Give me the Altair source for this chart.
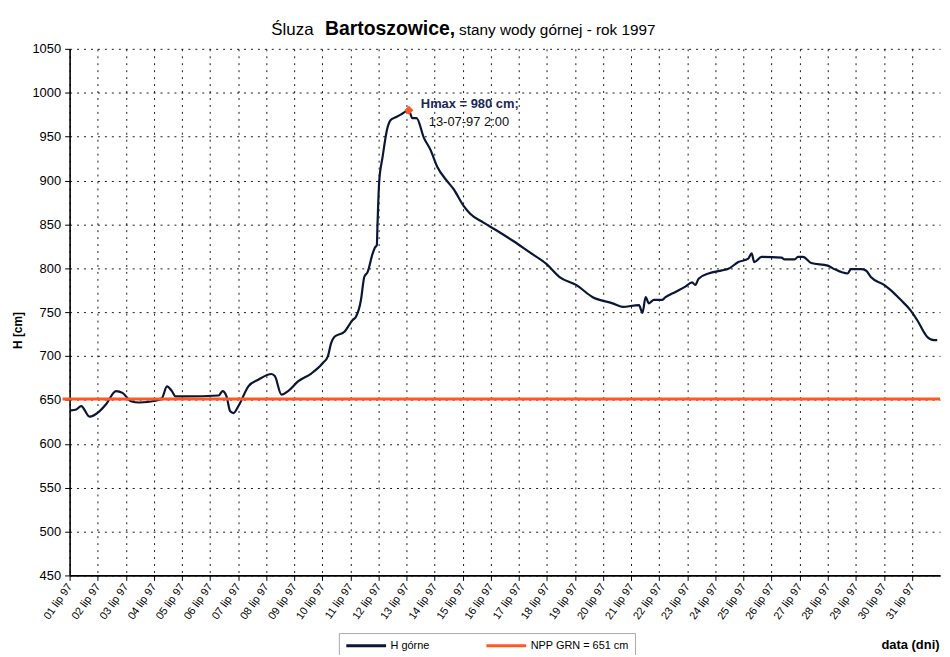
import altair as alt
import pandas as pd

# ---- data ----
# time as days since 1997-07-01 00:00
days = [0.05, 0.237, 0.414, 0.707, 1.061, 1.298, 1.652, 1.885, 2.183, 2.476, 3.067, 3.290,
        3.467, 3.643, 3.774, 4.128, 5.306, 5.447, 5.589, 5.720, 5.837, 6.013, 6.367, 6.721,
        7.191, 7.312, 7.545, 7.782, 8.136, 8.606, 9.020, 9.197, 9.314, 9.434, 9.788, 10.081,
        10.198, 10.375, 10.495, 10.612, 10.789, 10.884, 10.941, 10.966, 11.026, 11.143, 11.320,
        11.436, 11.613, 11.790, 12.083, 12.204, 12.356, 12.618, 12.851, 13.088, 13.442, 13.679,
        14.033, 14.266, 14.740, 15.211, 15.801, 16.389, 16.979, 17.450, 18.040, 18.631, 19.339,
        19.693, 20.280, 20.400, 20.516, 20.633, 20.810, 21.107, 21.224, 21.578, 21.931, 22.168,
        22.285, 22.402, 22.756, 23.230, 23.463, 23.817, 24.171, 24.291, 24.383, 24.645, 25.352,
        25.469, 25.823, 25.940, 26.117, 26.414, 27.000, 27.237, 27.708, 27.828, 28.182, 28.359,
        28.536, 29.006, 29.243, 29.597, 29.951, 30.184, 30.538, 30.775, 30.9]
h_gorne = [638, 639, 643, 631, 637, 645, 660, 658, 648.5, 647, 649, 652,
           665.5, 660, 654, 654, 655, 660, 654, 637, 635, 643, 665.5, 673,
           679.5, 677, 656, 660, 671, 680, 692, 699.6, 714.6, 722, 727.7, 741,
           744.7, 763.6, 790, 795.6, 816.4, 824, 826, 850, 899, 926, 960,
           969, 972, 975, 980, 971, 971, 948.5, 935, 916, 899.4, 890,
           871, 862, 852, 843, 831, 818, 805, 790, 781, 767, 760,
           756, 758, 749, 767, 760, 764, 764, 767, 773, 779, 784,
           781, 788, 794, 797.5, 799.4, 807, 811, 817, 807, 813, 812,
           810, 810, 813, 813, 806, 803, 799, 794, 799, 799, 797.5,
           790, 781, 775, 764, 752, 741, 722, 718, 718]
npp_days = [-0.25, 31.0]
npp_values = [651, 651]
peak_day = [12 + 2 / 24]
peak_value = [980]
peak_labels = ["Hmax = 980 cm;", "13-07-97 2:00"]
series_names = ["H górne", "NPP GRN = 651 cm"]
series_colors = ["#0b1535", "#ff5a1e"]
y_ticks = list(range(450, 1051, 50))
title_parts = ["Śluza", "Bartoszowice,", "stany wody górnej - rok 1997"]
x_title = "data (dni)"
y_title = "H [cm]"

base_date = pd.Timestamp("1997-07-01")


def to_ts(ds):
    return [(base_date + pd.to_timedelta(d, unit="D")).strftime("%Y-%m-%dT%H:%M:%S") for d in ds]


df_h = pd.DataFrame({"t": to_ts(days), "H": h_gorne, "series": series_names[0]})
df_npp = pd.DataFrame({"t": to_ts(npp_days), "H": npp_values, "series": series_names[1]})
df_peak = pd.DataFrame({"t": to_ts(peak_day), "H": peak_value,
                        "l1": [peak_labels[0]], "l2": [peak_labels[1]]})
df_one = pd.DataFrame({"a": [0]})

FONT = "Liberation Sans"

x_enc = alt.X(
    "t:T",
    scale=alt.Scale(domain=[alt.DateTime(year=1997, month=7, date=1),
                            alt.DateTime(year=1997, month=7, date=31, hours=23, minutes=59)]),
    axis=alt.Axis(
        tickCount=alt.TimeIntervalStep(interval="day", step=1),
        format="%d lip %y", labelAngle=-55, labelFontSize=11, labelFont=FONT,
        labelColor="#000", labelPadding=4, labelOverlap=False, labelBound=False,
        labelFlush=False,
        grid=True, gridDash=[2, 5], gridColor="#000", gridOpacity=0.9, gridWidth=1,
        domainColor="#000", domainWidth=1.8, tickColor="#000", tickSize=5,
        title=x_title, titleFont=FONT, titleFontSize=13, titleFontWeight="bold",
        titleColor="#000", titleX=875, titleY=74, titleAlign="right",
        titleBaseline="alphabetic",
    ),
)
y_enc = alt.Y(
    "H:Q",
    scale=alt.Scale(domain=[450, 1050], nice=False, zero=False),
    axis=alt.Axis(
        values=y_ticks, format="d", labelFontSize=13, labelFont=FONT, labelColor="#000",
        labelPadding=4, grid=True, gridDash=[2, 5], gridColor="#000",
        gridOpacity=0.9, gridWidth=1,
        domainColor="#000", domainWidth=1.6, tickColor="#000", tickSize=5,
        title=y_title, titleFont=FONT, titleFontSize=12, titleFontWeight="bold",
        titleColor="#000", titleX=-52, titleY=283, titleBaseline="middle",
    ),
)
color_enc = alt.Color(
    "series:N",
    scale=alt.Scale(domain=series_names, range=series_colors),
    legend=alt.Legend(
        title=None, orient="none", legendX=271, legendY=588, direction="horizontal",
        symbolType="M-4,0H4", symbolSize=100, symbolStrokeWidth=3, symbolOffset=15,
        labelFont=FONT, labelFontSize=11, labelColor="#000", labelOffset=18,
        columnPadding=50, padding=6, strokeColor="#aaaaaa", fillColor="white",
    ),
)

line_h = alt.Chart(df_h).mark_line(strokeWidth=2.2, interpolate="monotone").encode(
    x=x_enc, y=y_enc, color=color_enc)
line_npp = alt.Chart(df_npp).mark_line(strokeWidth=3.2, clip=False).encode(
    x="t:T", y="H:Q", color=alt.Color("series:N"))
peak_pt = alt.Chart(df_peak).mark_point(shape="diamond", filled=True, size=85,
                                        color="#ff5a1e", opacity=1).encode(x="t:T", y="H:Q")
peak_t1 = alt.Chart(df_peak).mark_text(align="left", baseline="middle", dx=12, dy=-6,
                                       font=FONT, fontSize=13, fontWeight="bold",
                                       color="#1c2757").encode(x="t:T", y="H:Q", text="l1:N")
peak_t2 = alt.Chart(df_peak).mark_text(align="left", baseline="middle", dx=20, dy=12,
                                       font=FONT, fontSize=13,
                                       color="#111").encode(x="t:T", y="H:Q", text="l2:N")

t1 = alt.Chart(df_one).mark_text(align="left", baseline="alphabetic", font=FONT,
                                 fontSize=17, color="#000", text=title_parts[0]).encode(
    x=alt.value(203), y=alt.value(-14))
t2 = alt.Chart(df_one).mark_text(align="left", baseline="alphabetic", font=FONT,
                                 fontSize=19.5, fontWeight="bold", color="#000",
                                 text=title_parts[1]).encode(x=alt.value(257), y=alt.value(-14))
t3 = alt.Chart(df_one).mark_text(align="left", baseline="alphabetic", font=FONT,
                                 fontSize=15.4, color="#000", text=title_parts[2]).encode(
    x=alt.value(392), y=alt.value(-14))

chart = alt.layer(line_h, line_npp, peak_pt, peak_t1, peak_t2, t1, t2, t3).properties(
    width=876, height=530,
    autosize=alt.AutoSizeParams(type="none"),
    padding={"left": 62, "top": 39, "right": 2, "bottom": 78},
    background="white",
).configure_view(stroke=None)

chart.save("out.html", embed_options={"renderer": "svg", "actions": False})
